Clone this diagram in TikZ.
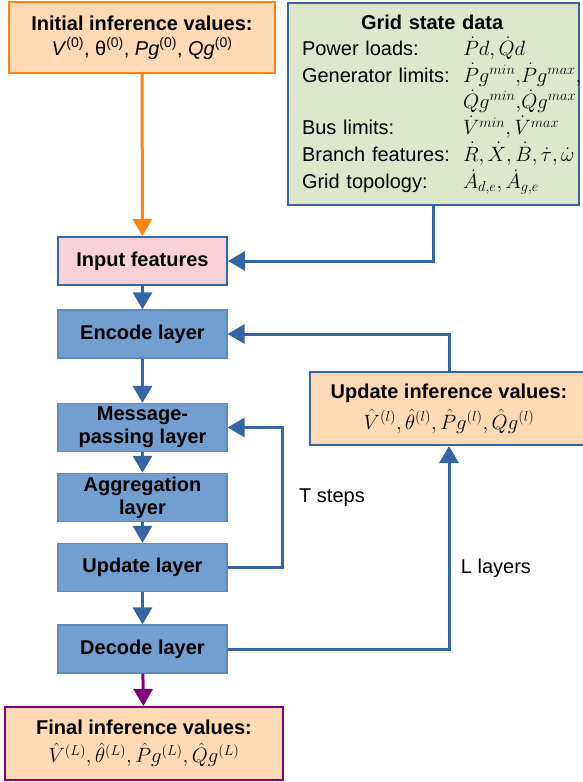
\documentclass[tikz,border=0pt]{standalone}
\usepackage{fontspec}
\setmainfont{Liberation Sans}
\usetikzlibrary{arrows.meta,positioning}

\begin{document}
\begin{tikzpicture}[x=1pt, y=-1pt, every node/.style={font=\fontsize{20}{25}\selectfont}]
        \definecolor{gnnorange}{RGB}{255,131,14}
        \definecolor{gnnpeach}{RGB}{255,218,180}
        \definecolor{gnnblue}{RGB}{52,101,164}
        \definecolor{gnnlight}{RGB}{114,159,207}
        \definecolor{gnnedge}{RGB}{92,138,196}
        \definecolor{gnngreen}{RGB}{221,232,203}
        \definecolor{gnnpink}{RGB}{248,209,216}
        \definecolor{gnnpurple}{RGB}{128,0,128}
        \tikzset{
            layer/.style={draw=gnnedge, line width=1.2pt, fill=gnnlight, minimum width=169pt, minimum height=48pt, align=center, font=\fontsize{20}{23}\selectfont\bfseries},
            valbox/.style={fill=gnnpeach, line width=2pt, align=center, inner sep=0pt},
            flow/.style={line width=3pt, -{Triangle[width=19pt,length=17pt]}}
        }
        \useasboundingbox (0,0) rectangle (583,782);

        % Initial values and grid data
        \node[valbox, draw=gnnorange, minimum width=266pt, minimum height=71pt] (init) at (142,37.5)
            {\textbf{Initial inference values:}\\ \textit{V}\textsuperscript{(0)}, θ\textsuperscript{(0)}, \textit{Pg}\textsuperscript{(0)}, \textit{Qg}\textsuperscript{(0)}};
        \node[draw=gnnblue, line width=2pt, fill=gnngreen, anchor=north west, minimum width=291pt, minimum height=202pt, inner xsep=14pt, inner ysep=0pt, text width=263pt, align=left] (grid) at (287,2) {%
            \begin{tabular}{@{}p{161pt}@{}l@{}}
            \multicolumn{2}{@{}l@{}}{\hspace{59pt}\bfseries Grid state data}\\
            Power loads: & $\dot P d, \dot Q d$\\
            Generator limits: & $\dot P g^{min}{,}\dot P g^{max}{,}$\\
             & $\dot Q g^{min}{,}\dot Q g^{max}$\\
            Bus limits: & $\dot V^{min}, \dot V^{max}$\\
            Branch features: & $\dot R, \dot X, \dot B, \dot \tau, \dot \omega$\\[1pt]
            Grid topology: & $\dot A_{d,e}, \dot A_{g,e}$
            \end{tabular}};

        % Network layers
        \node[layer, draw=gnnblue, fill=gnnpink, line width=2pt] (input) at (142.5,261) {Input features};
        \node[layer] (encode) at (142.5,334) {Encode layer};
        \node[layer] (message) at (142.5,427.5) {Message-\\passing layer};
        \node[layer] (aggr) at (142.5,497.5) {Aggregation\\layer};
        \node[layer] (update) at (142.5,567.5) {Update layer};
        \node[layer] (decode) at (142.5,649) {Decode layer};

        % Update and final values
        \node[valbox, draw=gnnblue, minimum width=278pt, minimum height=73pt] (updval) at (449,408.5)
            {\textbf{Update inference values:}\\[6pt] $\hat V^{(l)}, \hat\theta^{(l)}, \hat P g^{(l)}, \hat Q g^{(l)}$};
        \node[valbox, draw=gnnpurple, minimum width=278pt, minimum height=73pt] (final) at (144,743.5)
            {\textbf{Final inference values:}\\[3pt] $\hat V^{(L)}, \hat\theta^{(L)}, \hat P g^{(L)}, \hat Q g^{(L)}$};

        % Arrows
        \draw[flow, gnnorange] (init) -- (input);
        \draw[flow, gnnblue] (grid.south) |- (input.east);
        \draw[flow, gnnblue] (input) -- (encode);
        \draw[flow, gnnblue] (encode) -- (message);
        \draw[flow, gnnblue] (message) -- (aggr);
        \draw[flow, gnnblue] (aggr) -- (update);
        \draw[flow, gnnblue] (update) -- (decode);
        \draw[flow, gnnpurple] (decode) -- (final);
        \draw[flow, gnnblue] (update.east) -- ++(55,0) |- (message.east);
        \draw[flow, gnnblue] (decode.east) -| (updval.south);
        \draw[flow, gnnblue] (updval.north) |- (encode.east);

        % Loop labels
        \node (tsteps) at (332,498) {T steps};
        \node (llayers) at (496,568) {L layers};
    \end{tikzpicture}
\end{document}
